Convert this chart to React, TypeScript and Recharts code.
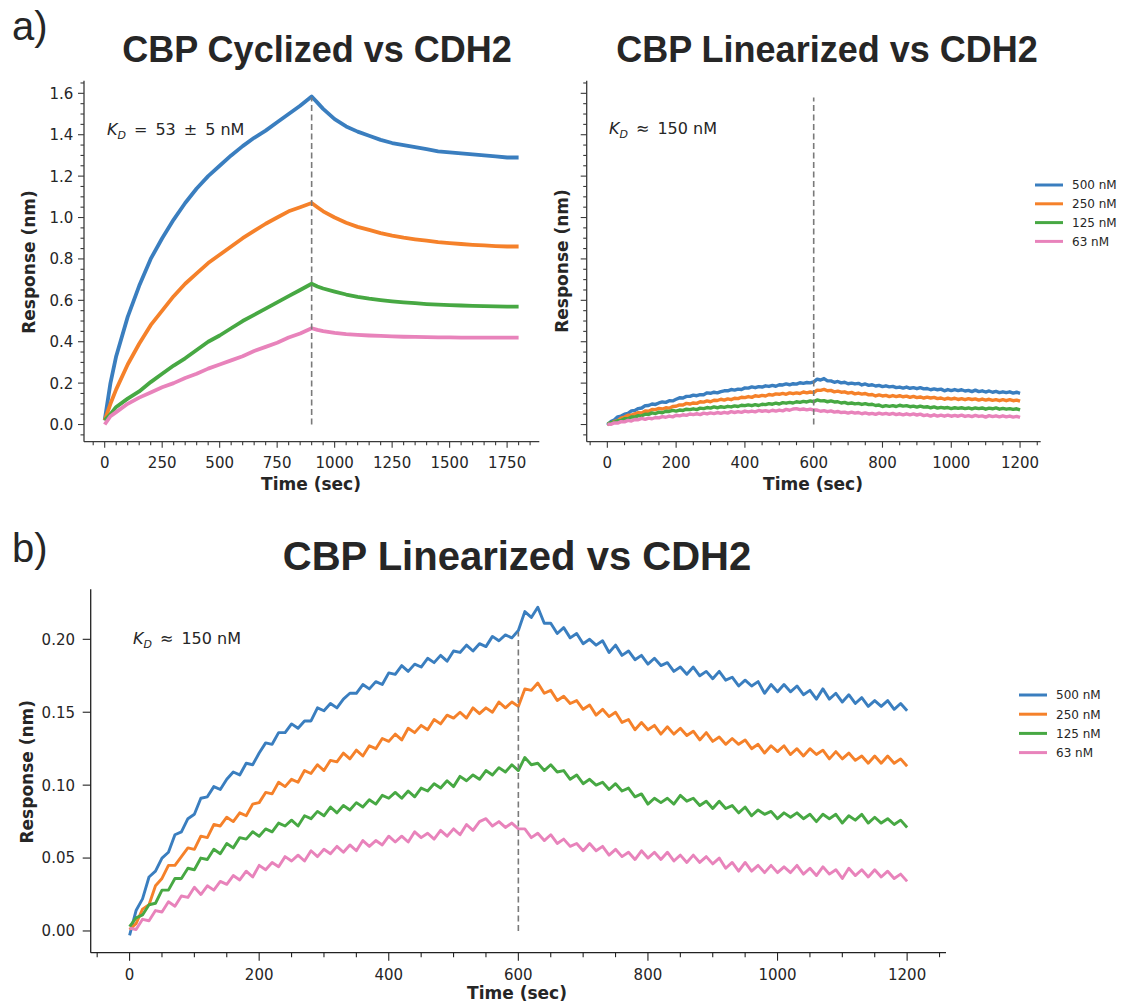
import React from "react";
import { LineChart, Line, XAxis, YAxis, ReferenceLine } from "recharts";

const W = 1126;
const H = 1007;
const FONT = "'DejaVu Sans', sans-serif";
const TITLE_FONT = "'Liberation Sans', Arial, sans-serif";
const INK = "#262626";

// series (concentrations) shared by every panel
const seriesNames = ["500 nM", "250 nM", "125 nM", "63 nM"];
const seriesKeys = ["c500", "c250", "c125", "c63"];
const seriesColors = ["#3a7ebf", "#f5812a", "#47a843", "#e883bb"];

// CBP cyclized vs CDH2 (sec, nm)
const cycTime = [0, 25, 50, 100, 150, 200, 250, 300, 350, 400, 450, 500, 550, 600, 650, 700, 750, 800, 850, 900,
  925, 950, 1000, 1050, 1100, 1150, 1200, 1250, 1300, 1350, 1400, 1450, 1500, 1550, 1600, 1650, 1700, 1750, 1800];
const cyc500 = [0.02, 0.2, 0.33, 0.52, 0.67, 0.8, 0.9, 0.99, 1.07, 1.14, 1.2, 1.25, 1.3, 1.345, 1.385, 1.42, 1.46, 1.5, 1.54, 1.585,
  1.555, 1.525, 1.475, 1.44, 1.415, 1.395, 1.375, 1.36, 1.35, 1.34, 1.33, 1.32, 1.315, 1.31, 1.305, 1.3, 1.295, 1.29, 1.29];
const cyc250 = [0.02, 0.1, 0.17, 0.29, 0.39, 0.48, 0.55, 0.62, 0.68, 0.73, 0.78, 0.82, 0.86, 0.9, 0.935, 0.97, 1.0, 1.03, 1.05, 1.07,
  1.05, 1.03, 1.0, 0.975, 0.955, 0.94, 0.925, 0.913, 0.903, 0.895, 0.888, 0.881, 0.876, 0.872, 0.868, 0.865, 0.862, 0.86, 0.86];
const cyc125 = [0.02, 0.05, 0.085, 0.125, 0.16, 0.205, 0.245, 0.285, 0.32, 0.36, 0.4, 0.43, 0.465, 0.5, 0.53, 0.56, 0.59, 0.62, 0.65, 0.68,
  0.667, 0.657, 0.642, 0.628, 0.617, 0.608, 0.601, 0.595, 0.59, 0.586, 0.582, 0.579, 0.577, 0.575, 0.573, 0.572, 0.571, 0.57, 0.57];
const cyc63 = [0.0, 0.04, 0.06, 0.1, 0.13, 0.155, 0.18, 0.2, 0.225, 0.245, 0.27, 0.29, 0.31, 0.33, 0.355, 0.375, 0.395, 0.42, 0.44, 0.465,
  0.457, 0.451, 0.443, 0.437, 0.433, 0.43, 0.428, 0.426, 0.424, 0.423, 0.422, 0.421, 0.421, 0.42, 0.42, 0.42, 0.42, 0.42, 0.42];

// CBP linearized vs CDH2 (sec, nm)
const linTime = [
  0, 10, 20, 30, 40, 50, 60, 70, 80, 90, 100, 110, 120, 130, 140, 150, 160, 170, 180, 190,
  200, 210, 220, 230, 240, 250, 260, 270, 280, 290, 300, 310, 320, 330, 340, 350, 360, 370, 380, 390,
  400, 410, 420, 430, 440, 450, 460, 470, 480, 490, 500, 510, 520, 530, 540, 550, 560, 570, 580, 590,
  600, 610, 620, 630, 640, 650, 660, 670, 680, 690, 700, 710, 720, 730, 740, 750, 760, 770, 780, 790,
  800, 810, 820, 830, 840, 850, 860, 870, 880, 890, 900, 910, 920, 930, 940, 950, 960, 970, 980, 990,
  1000, 1010, 1020, 1030, 1040, 1050, 1060, 1070, 1080, 1090, 1100, 1110, 1120, 1130, 1140, 1150, 1160, 1170, 1180, 1190,
  1200];
const lin500 = [
  -0.003, 0.014, 0.022, 0.037, 0.041, 0.05, 0.054, 0.066, 0.068, 0.077,
  0.08, 0.091, 0.092, 0.099, 0.097, 0.104, 0.109, 0.107, 0.115, 0.114,
  0.122, 0.129, 0.128, 0.136, 0.136, 0.142, 0.139, 0.144, 0.144, 0.153,
  0.151, 0.156, 0.153, 0.159, 0.163, 0.163, 0.169, 0.166, 0.171, 0.169,
  0.177, 0.176, 0.182, 0.178, 0.183, 0.181, 0.187, 0.184, 0.189, 0.185,
  0.192, 0.191, 0.196, 0.192, 0.197, 0.195, 0.202, 0.199, 0.203, 0.201,
  0.206, 0.219, 0.215, 0.222, 0.211, 0.211, 0.204, 0.208, 0.201, 0.204,
  0.197, 0.2, 0.196, 0.199, 0.191, 0.196, 0.189, 0.192, 0.186, 0.189,
  0.183, 0.187, 0.182, 0.184, 0.178, 0.181, 0.176, 0.181, 0.175, 0.178,
  0.173, 0.178, 0.172, 0.174, 0.168, 0.172, 0.168, 0.171, 0.163, 0.169,
  0.164, 0.169, 0.164, 0.168, 0.162, 0.165, 0.159, 0.166, 0.159, 0.163,
  0.157, 0.162, 0.156, 0.16, 0.154, 0.158, 0.154, 0.158, 0.152, 0.156,
  0.151];
const lin250 = [
  0.001, 0.005, 0.015, 0.018, 0.031, 0.036, 0.045, 0.045, 0.051, 0.057,
  0.056, 0.065, 0.064, 0.073, 0.072, 0.078, 0.075, 0.081, 0.079, 0.087,
  0.088, 0.095, 0.094, 0.102, 0.099, 0.104, 0.102, 0.11, 0.108, 0.114,
  0.11, 0.117, 0.116, 0.122, 0.118, 0.124, 0.12, 0.127, 0.125, 0.132,
  0.13, 0.135, 0.131, 0.139, 0.136, 0.141, 0.138, 0.145, 0.142, 0.148,
  0.146, 0.15, 0.146, 0.153, 0.149, 0.153, 0.15, 0.157, 0.153, 0.157,
  0.154, 0.166, 0.165, 0.17, 0.163, 0.165, 0.158, 0.161, 0.156, 0.158,
  0.152, 0.155, 0.148, 0.152, 0.147, 0.15, 0.143, 0.145, 0.138, 0.143,
  0.138, 0.141, 0.135, 0.14, 0.135, 0.139, 0.134, 0.137, 0.131, 0.136,
  0.13, 0.133, 0.128, 0.132, 0.128, 0.131, 0.125, 0.128, 0.122, 0.127,
  0.123, 0.127, 0.121, 0.125, 0.12, 0.125, 0.121, 0.124, 0.118, 0.123,
  0.118, 0.122, 0.117, 0.12, 0.115, 0.12, 0.115, 0.12, 0.115, 0.118,
  0.113];
const lin125 = [
  0.003, 0.009, 0.011, 0.018, 0.019, 0.028, 0.028, 0.036, 0.036, 0.043,
  0.042, 0.05, 0.049, 0.056, 0.053, 0.06, 0.057, 0.064, 0.063, 0.068,
  0.065, 0.07, 0.068, 0.074, 0.072, 0.076, 0.072, 0.079, 0.077, 0.082,
  0.079, 0.085, 0.081, 0.086, 0.083, 0.088, 0.085, 0.09, 0.087, 0.093,
  0.091, 0.095, 0.091, 0.096, 0.092, 0.098, 0.096, 0.101, 0.098, 0.103,
  0.099, 0.106, 0.103, 0.107, 0.104, 0.11, 0.107, 0.112, 0.109, 0.114,
  0.11, 0.119, 0.114, 0.115, 0.11, 0.114, 0.109, 0.11, 0.104, 0.107,
  0.101, 0.104, 0.1, 0.102, 0.097, 0.101, 0.096, 0.098, 0.092, 0.094,
  0.087, 0.091, 0.088, 0.091, 0.087, 0.093, 0.089, 0.091, 0.086, 0.089,
  0.084, 0.089, 0.084, 0.086, 0.081, 0.085, 0.079, 0.083, 0.08, 0.082,
  0.077, 0.081, 0.078, 0.081, 0.077, 0.08, 0.075, 0.08, 0.077, 0.08,
  0.074, 0.079, 0.076, 0.08, 0.074, 0.078, 0.074, 0.077, 0.073, 0.076,
  0.071];
const lin63 = [
  0.002, 0.001, 0.008, 0.007, 0.014, 0.013, 0.02, 0.017, 0.024, 0.023,
  0.03, 0.025, 0.031, 0.028, 0.034, 0.032, 0.038, 0.035, 0.041, 0.037,
  0.045, 0.042, 0.047, 0.044, 0.051, 0.048, 0.052, 0.048, 0.055, 0.051,
  0.056, 0.053, 0.058, 0.054, 0.059, 0.055, 0.062, 0.058, 0.062, 0.059,
  0.065, 0.061, 0.065, 0.061, 0.068, 0.064, 0.067, 0.063, 0.069, 0.065,
  0.07, 0.066, 0.073, 0.069, 0.075, 0.077, 0.072, 0.075, 0.071, 0.074,
  0.07, 0.07, 0.064, 0.067, 0.062, 0.066, 0.06, 0.063, 0.058, 0.06,
  0.055, 0.06, 0.055, 0.058, 0.052, 0.056, 0.051, 0.054, 0.049, 0.055,
  0.05, 0.054, 0.049, 0.054, 0.048, 0.052, 0.047, 0.052, 0.047, 0.051,
  0.046, 0.05, 0.043, 0.047, 0.041, 0.047, 0.041, 0.045, 0.04, 0.045,
  0.04, 0.044, 0.04, 0.045, 0.039, 0.043, 0.038, 0.044, 0.039, 0.042,
  0.036, 0.043, 0.038, 0.042, 0.037, 0.042, 0.037, 0.041, 0.036, 0.039,
  0.034];

// tick labels
const cycXLabels = [0, 250, 500, 750, 1000, 1250, 1500, 1750];
const linXLabels = [0, 200, 400, 600, 800, 1000, 1200];
const cycYLabels = [0, 0.2, 0.4, 0.6, 0.8, 1.0, 1.2, 1.4, 1.6];
const linYLabels = [0, 0.05, 0.1, 0.15, 0.2];

const steps = (from: number, to: number, step: number) => {
  const out: number[] = [];
  for (let v = from; v <= to + 1e-9; v += step) out.push(Math.round(v * 1000) / 1000);
  return out;
};

const toRows = (t: number[], cols: number[][]) =>
  t.map((x, i) => {
    const row: any = { t: x };
    seriesKeys.forEach((k, j) => (row[k] = cols[j][i]));
    return row;
  });

const cycData = toRows(cycTime, [cyc500, cyc250, cyc125, cyc63]);
const linData = toRows(linTime, [lin500, lin250, lin125, lin63]);

const near = (list: number[], v: number) => list.some((m) => Math.abs(m - v) < 1e-6);

function XTick(props: any) {
  const { x, y, payload, labels, major, minor, gap, fontSize, color } = props;
  const isMajor = near(labels, payload.value);
  return (
    <g>
      <line x1={x} x2={x} y1={y} y2={y + (isMajor ? major : minor)} stroke={color} strokeWidth={1.1} />
      {isMajor && (
        <text x={x} y={y + gap} textAnchor="middle" fontSize={fontSize} fontFamily={FONT} fill={INK}>
          {payload.value}
        </text>
      )}
    </g>
  );
}

function YTick(props: any) {
  const { x, y, payload, labels, major, minor, gap, fontSize, color, digits, show } = props;
  const isMajor = near(labels, payload.value);
  return (
    <g>
      <line x1={x} x2={x - (isMajor ? major : minor)} y1={y} y2={y} stroke={color} strokeWidth={1.1} />
      {isMajor && show && (
        <text x={x - gap} y={y + fontSize * 0.36} textAnchor="end" fontSize={fontSize} fontFamily={FONT} fill={INK}>
          {Number(payload.value).toFixed(digits)}
        </text>
      )}
    </g>
  );
}

function Panel(p: any) {
  const tickStyle = { major: p.major, minor: p.minor, fontSize: 15, color: p.axisColor };
  return (
    <div style={{ position: "absolute", left: p.left, top: p.top }}>
      <LineChart width={p.width} height={p.height} data={p.data} margin={p.margin}>
        <XAxis
          dataKey="t"
          type="number"
          domain={p.xDomain}
          ticks={p.xTicks}
          interval={0}
          height={p.xHeight}
          tickSize={0}
          tickMargin={0}
          tickLine={false}
          axisLine={{ stroke: p.axisColor, strokeWidth: 1.3 }}
          tick={(t: any) => <XTick {...t} {...tickStyle} labels={p.xLabels} gap={p.xGap} />}
        />
        <YAxis
          type="number"
          domain={p.yDomain}
          ticks={p.yTicks}
          interval={0}
          width={p.yWidth}
          tickSize={0}
          tickMargin={0}
          tickLine={false}
          axisLine={{ stroke: p.axisColor, strokeWidth: 1.3 }}
          tick={(t: any) => (
            <YTick {...t} {...tickStyle} labels={p.yLabels} gap={p.yGap} digits={p.digits} show={p.showY} />
          )}
        />
        {seriesKeys.map((k, i) => (
          <Line
            key={k}
            type="linear"
            dataKey={k}
            name={seriesNames[i]}
            stroke={seriesColors[i]}
            strokeWidth={p.lineWidth}
            strokeLinejoin="round"
            dot={false}
            isAnimationActive={false}
          />
        ))}
        <ReferenceLine
          segment={[{ x: p.vAt, y: 0 }, { x: p.vAt, y: p.vTop }]}
          stroke="#7a7a7a"
          strokeWidth={1.6}
          strokeDasharray="6 3.5"
        />
      </LineChart>
    </div>
  );
}

function KD({ x, y, rest }: { x: number; y: number; rest: string }) {
  return (
    <text x={x} y={y} fontSize={16} fontFamily={FONT} fill={INK}>
      <tspan fontStyle="italic">K</tspan>
      <tspan fontStyle="italic" fontSize={11} dy={4}>D</tspan>
      <tspan dy={-4}>{rest}</tspan>
    </text>
  );
}

function LegendBox({ x, y, gap }: { x: number; y: number; gap: number }) {
  return (
    <g>
      {seriesNames.map((n, i) => (
        <g key={n}>
          <line x1={x} x2={x + 28} y1={y + i * gap} y2={y + i * gap} stroke={seriesColors[i]} strokeWidth={3} />
          <text x={x + 37} y={y + i * gap + 4.3} fontSize={12} fontFamily={FONT} fill={INK}>{n}</text>
        </g>
      ))}
    </g>
  );
}

export default function App() {
  return (
    <div style={{ position: "absolute", left: 0, top: 0, width: W, height: H, background: "#fff" }}>
      <Panel
        left={0} top={0} width={560} height={520}
        margin={{ top: 80.7, right: 20.7, bottom: 18.3, left: 24 }}
        yWidth={60} xHeight={60}
        data={cycData}
        xDomain={[-90, 1890]} yDomain={[-0.083, 1.661]}
        xTicks={steps(-50, 1850, 50)} xLabels={cycXLabels}
        yTicks={steps(-0.05, 1.65, 0.05)} yLabels={cycYLabels}
        digits={1} showY
        major={6} minor={3.5} xGap={26.3} yGap={10.7}
        axisColor="#3a3a3a" lineWidth={3.8}
        vAt={900} vTop={1.58}
      />
      <Panel
        left={540} top={0} width={586} height={520}
        margin={{ top: 80.7, right: 85.3, bottom: 18.3, left: 6.7 }}
        yWidth={40} xHeight={60}
        data={linData}
        xDomain={[-60, 1260]} yDomain={[-0.083, 1.661]}
        xTicks={steps(-50, 1250, 50)} xLabels={linXLabels}
        yTicks={steps(-0.05, 1.65, 0.05)} yLabels={cycYLabels}
        digits={1} showY={false}
        major={6} minor={3.5} xGap={26.3} yGap={10.7}
        axisColor="#3a3a3a" lineWidth={3.4}
        vAt={600} vTop={1.58}
      />
      <Panel
        left={0} top={560} width={1126} height={447}
        margin={{ top: 29.3, right: 180, bottom: 4.3, left: 30.7 }}
        yWidth={60} xHeight={50}
        data={linData}
        xDomain={[-60, 1260]} yDomain={[-0.0149, 0.2343]}
        xTicks={steps(-50, 1250, 50)} xLabels={linXLabels}
        yTicks={linYLabels} yLabels={linYLabels}
        digits={2} showY
        major={8} minor={4.5} xGap={27.3} yGap={15.7}
        axisColor="#222" lineWidth={2.9}
        vAt={600} vTop={0.205}
      />
      <svg width={W} height={H} style={{ position: "absolute", left: 0, top: 0, pointerEvents: "none" }}>
        <text x={12} y={40} fontSize={40} fontFamily={TITLE_FONT} fill={INK}>a)</text>
        <text x={12} y={562} fontSize={40} fontFamily={TITLE_FONT} fill={INK}>b)</text>
        <text x={317} y={62} fontSize={36} fontWeight="bold" textAnchor="middle" fontFamily={TITLE_FONT} fill={INK}>
          CBP Cyclized vs CDH2
        </text>
        <text x={827} y={62} fontSize={36} fontWeight="bold" textAnchor="middle" fontFamily={TITLE_FONT} fill={INK}>
          CBP Linearized vs CDH2
        </text>
        <text x={517} y={570} fontSize={40} fontWeight="bold" textAnchor="middle" fontFamily={TITLE_FONT} fill={INK}>
          CBP Linearized vs CDH2
        </text>

        <KD x={107} y={135} rest={"\u2002=\u200253\u2002±\u20025 nM"} />
        <KD x={609} y={134} rest={"\u2002≈\u2002150 nM"} />
        <KD x={133} y={644} rest={"\u2002≈\u2002150 nM"} />

        <g fontFamily={FONT} fontWeight="bold" fontSize={17} fill={INK} textAnchor="middle">
          <text transform="translate(28.6,262) rotate(-90)" dominantBaseline="central">Response (nm)</text>
          <text transform="translate(561.5,261) rotate(-90)" dominantBaseline="central">Response (nm)</text>
          <text transform="translate(27,771.7) rotate(-90)" dominantBaseline="central">Response (nm)</text>
          <text x={311} y={490}>Time (sec)</text>
          <text x={813} y={490}>Time (sec)</text>
          <text x={517} y={999}>Time (sec)</text>
        </g>

        <LegendBox x={1035} y={185} gap={18.8} />
        <LegendBox x={1019} y={695} gap={19.2} />
      </svg>
    </div>
  );
}
